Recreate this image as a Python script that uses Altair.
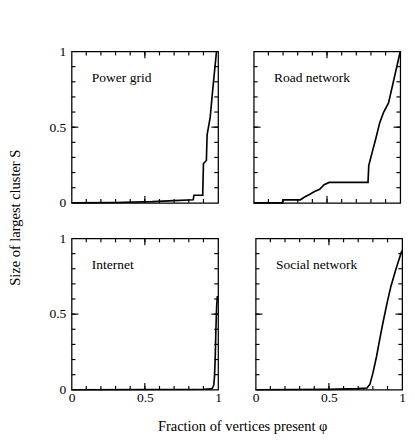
import altair as alt
import pandas as pd

SERIF = "Liberation Serif"

# ---- data ----
power_phi = [0, 0.3, 0.55, 0.7, 0.83, 0.835, 0.895, 0.9, 0.92, 0.925, 0.946, 0.963, 0.989]
power_S   = [0, 0.002, 0.008, 0.015, 0.02, 0.05, 0.05, 0.26, 0.28, 0.45, 0.565, 0.745, 1.0]

road_phi = [0, 0.195, 0.2, 0.318, 0.35, 0.38, 0.415, 0.45, 0.48, 0.515, 0.78, 0.785, 0.81, 0.832, 0.86, 0.887, 0.92, 0.953, 1.0]
road_S   = [0, 0.0, 0.02, 0.02, 0.04, 0.055, 0.075, 0.09, 0.12, 0.135, 0.135, 0.247, 0.34, 0.42, 0.53, 0.6, 0.66, 0.8, 1.0]

inet_phi = [0, 0.5, 0.9, 0.95, 0.96, 0.97, 0.975, 0.98, 0.985, 0.99, 0.995]
inet_S   = [0, 0.002, 0.004, 0.006, 0.01, 0.03, 0.08, 0.2, 0.4, 0.55, 0.62]

social_phi = [0, 0.5, 0.7, 0.76, 0.78, 0.80, 0.825, 0.846, 0.868, 0.896, 0.922, 0.955, 0.998]
social_S   = [0, 0.003, 0.008, 0.012, 0.037, 0.11, 0.22, 0.33, 0.44, 0.57, 0.68, 0.79, 0.92]

minor_ticks = [0.1, 0.2, 0.3, 0.4, 0.5, 0.6, 0.7, 0.8, 0.9]
major_ticks = [0.5]
label_vals = [0, 0.5, 1]

W, H = 152, 157
MINOR, MAJOR = 4, 7


def panel(xs, ys, label, show_x, show_y):
    df = pd.DataFrame({"phi": xs, "S": ys})
    scale = alt.Scale(domain=[0, 1], nice=False, zero=False)
    if show_x:
        xaxis = alt.Axis(values=label_vals, ticks=False, domain=False, grid=False,
                         labelFont=SERIF, labelFontSize=14, labelColor="black",
                         labelPadding=1, title=None, labelFlush=False, format=".1~f")
    else:
        xaxis = None
    if show_y:
        yaxis = alt.Axis(values=label_vals, ticks=False, domain=False, grid=False,
                         labelFont=SERIF, labelFontSize=14, labelColor="black",
                         labelPadding=6, title=None, labelFlush=False, format=".1~f")
    else:
        yaxis = None

    X = lambda: alt.X("phi:Q", scale=scale, axis=xaxis)
    Y = lambda: alt.Y("S:Q", scale=scale, axis=yaxis)

    line = alt.Chart(df).mark_line(color="black", strokeWidth=1.7).encode(x=X(), y=Y())

    layers = [line]
    for vals, ln in ((minor_ticks, MINOR), (major_ticks, MAJOR)):
        tx = alt.Chart(pd.DataFrame({"phi": vals}))
        ty = alt.Chart(pd.DataFrame({"S": vals}))
        layers.append(tx.mark_rule(color="black", strokeWidth=1.2).encode(
            x=X(), y=alt.value(H), y2=alt.value(H - ln)))
        layers.append(tx.mark_rule(color="black", strokeWidth=1.2).encode(
            x=X(), y=alt.value(0), y2=alt.value(ln)))
        layers.append(ty.mark_rule(color="black", strokeWidth=1.2).encode(
            y=Y(), x=alt.value(0), x2=alt.value(ln)))
        layers.append(ty.mark_rule(color="black", strokeWidth=1.2).encode(
            y=Y(), x=alt.value(W), x2=alt.value(W - ln)))

    txt = alt.Chart(pd.DataFrame({"t": [label]})).mark_text(
        align="left", baseline="middle", font=SERIF, fontSize=14, color="black"
    ).encode(x=alt.value(21), y=alt.value(28), text="t:N")
    layers.append(txt)

    return alt.layer(*layers).properties(width=W, height=H)


row1 = alt.hconcat(panel(power_phi, power_S, "Power grid", False, True),
                   panel(road_phi, road_S, "Road network", False, False), spacing=29)
row2 = alt.hconcat(panel(inet_phi, inet_S, "Internet", True, True),
                   panel(social_phi, social_S, "Social network", True, False), spacing=29)

grid = alt.vconcat(row1, row2, spacing=21).properties(
    title=alt.TitleParams("Fraction of vertices present   φ", orient="bottom",
                          anchor="middle", font=SERIF, fontSize=15, fontWeight="normal",
                          color="black", offset=15, dx=16)
)

chart = alt.hconcat(grid).properties(
    title=alt.TitleParams("Size of largest cluster   S", orient="left",
                          anchor="middle", font=SERIF, fontSize=15, fontWeight="normal",
                          color="black", offset=26, dx=22),
    padding={"left": 0, "top": 29, "right": 0, "bottom": 0},
    background="white",
).configure_view(stroke="black", strokeWidth=1.3)

chart.save("out.html", embed_options={"renderer": "svg", "actions": False})
